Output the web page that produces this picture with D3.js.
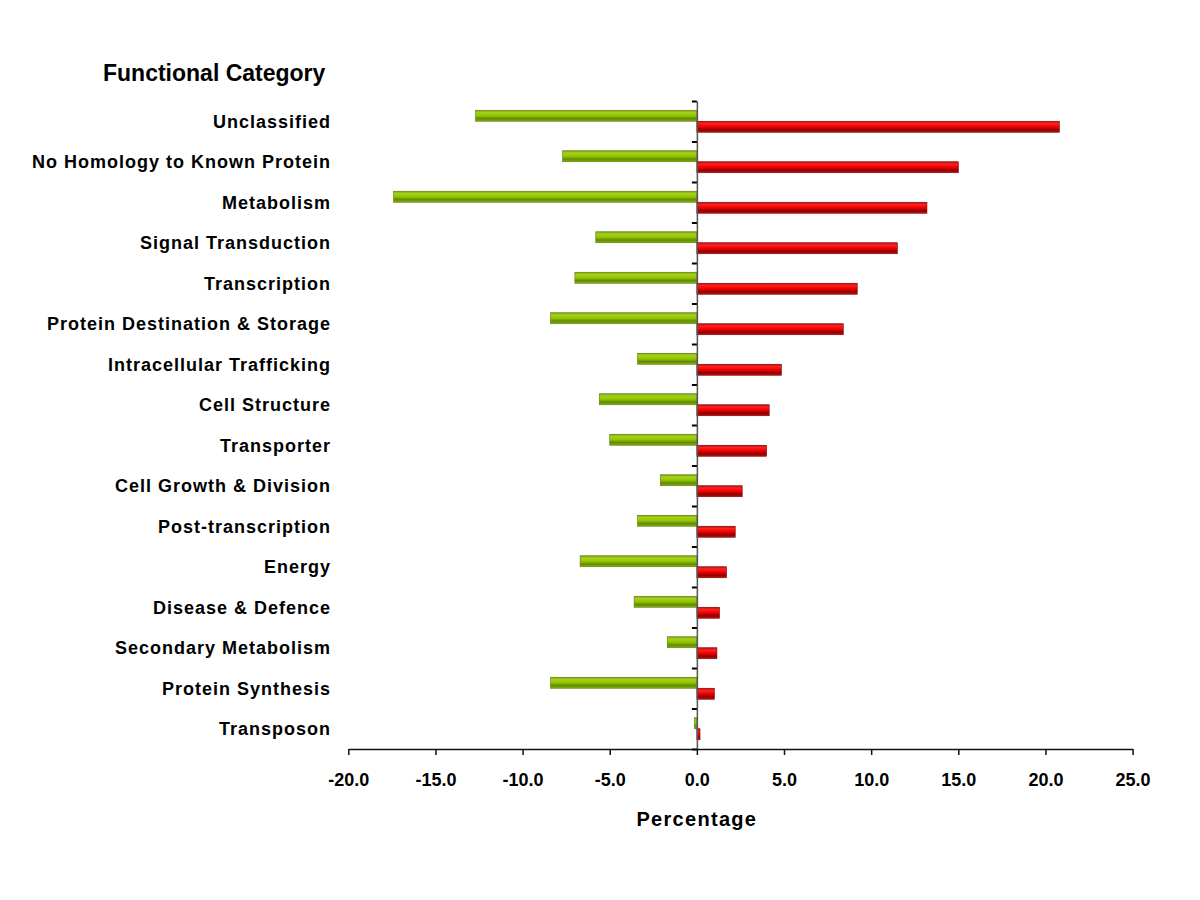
<!DOCTYPE html>
<html>
<head>
<meta charset="utf-8">
<script src="https://cdn.jsdelivr.net/npm/d3@7"></script>
<style>
  body { margin: 0; background: #fff; }
  text { font-family: Arial, "Liberation Sans", sans-serif; font-weight: bold; fill: #000; }
</style>
</head>
<body>
<svg id="chart"></svg>
<script>
/** * * * * DATA * * * */
const categories = [
  "Unclassified",
  "No Homology to Known Protein",
  "Metabolism",
  "Signal Transduction",
  "Transcription",
  "Protein Destination & Storage",
  "Intracellular Trafficking",
  "Cell Structure",
  "Transporter",
  "Cell Growth & Division",
  "Post-transcription",
  "Energy",
  "Disease & Defence",
  "Secondary Metabolism",
  "Protein Synthesis",
  "Transposon"
];
// green (negative) series
const downValues = [-12.7, -7.7, -17.4, -5.8, -7.0, -8.4, -3.4, -5.6, -5.0, -2.1, -3.4, -6.7, -3.6, -1.7, -8.4, -0.15];
// red (positive) series
const upValues = [20.8, 15.0, 13.2, 11.5, 9.2, 8.4, 4.85, 4.15, 4.0, 2.6, 2.2, 1.7, 1.3, 1.15, 1.0, 0.18];
const xTicks = [-20, -15, -10, -5, 0, 5, 10, 15, 20, 25];

/** * * * * CONSTANTS * * * */
const width = 1200;
const height = 900;
const plot = { left: 348.3, right: 1132.6, top: 101, bottom: 749 };
const barH = 11;

const svg = d3.select('#chart')
  .attr('width', width)
  .attr('height', height);

// cylinder-ish gradients like the old excel bars
const defs = svg.append('defs');
function gradient(id, stops) {
  let g = defs.append('linearGradient')
    .attr('id', id)
    .attr('x1', 0).attr('y1', 0).attr('x2', 0).attr('y2', 1);
  stops.forEach(function(s) {
    g.append('stop').attr('offset', s[0]).attr('stop-color', s[1]);
  });
}
gradient('greenGrad', [[0, '#7d9a14'], [0.2, '#a4d21c'], [0.5, '#94c400'], [0.75, '#628c00'], [1, '#86ad10']]);
gradient('redGrad', [[0, '#b01010'], [0.2, '#ff2020'], [0.5, '#f00000'], [0.78, '#8c0000'], [1, '#c41010']]);

// scales
let x = d3.scaleLinear()
  .domain([-20, 25])
  .range([plot.left, plot.right]);

let y = d3.scaleBand()
  .domain(categories)
  .range([plot.top, plot.bottom])
  .padding(0);

let step = y.step();
let series = d3.scaleBand()
  .domain(['down', 'up'])
  .range([step / 2 - barH, step / 2 + barH]);

let rows = categories.map(function(c, i) {
  return { cat: c, down: downValues[i], up: upValues[i] };
});

// green bars
svg.append('g').selectAll('rect')
  .data(rows)
  .enter()
  .append('rect')
  .attr('x', function(d) { return x(d.down); })
  .attr('y', function(d) { return y(d.cat) + series('down'); })
  .attr('width', function(d) { return x(0) - x(d.down); })
  .attr('height', series.bandwidth())
  .attr('fill', 'url(#greenGrad)')
  .attr('stroke', '#5d7a10')
  .attr('stroke-width', 0.6);

// red bars
svg.append('g').selectAll('rect')
  .data(rows)
  .enter()
  .append('rect')
  .attr('x', x(0))
  .attr('y', function(d) { return y(d.cat) + series('up'); })
  .attr('width', function(d) { return x(d.up) - x(0); })
  .attr('height', series.bandwidth())
  .attr('fill', 'url(#redGrad)')
  .attr('stroke', '#7a0000')
  .attr('stroke-width', 0.6);

// y axis at zero, ticks on band boundaries
let yEdges = d3.scaleLinear()
  .domain([0, categories.length])
  .range([plot.top, plot.bottom]);

let yAxis = svg.append('g')
  .attr('transform', `translate(${x(0)},0)`)
  .call(d3.axisLeft(yEdges)
    .tickValues(d3.range(categories.length + 1))
    .tickFormat('')
    .tickSize(5)
    .tickSizeOuter(0));
yAxis.select('.domain').attr('stroke', '#555').attr('stroke-width', 1.5);
yAxis.selectAll('.tick line').attr('stroke', '#000').attr('stroke-width', 2);

// category labels
svg.append('g').selectAll('text')
  .data(categories)
  .enter()
  .append('text')
  .attr('x', 331)
  .attr('y', function(d) { return y(d) + step / 2; })
  .attr('dy', '0.36em')
  .attr('text-anchor', 'end')
  .style('font-size', '18px')
  .style('letter-spacing', '1px')
  .text(function(d) { return d; });

// x axis (plain hyphen for negatives, like the original)
let xAxis = svg.append('g')
  .attr('transform', `translate(0,${plot.bottom})`)
  .call(d3.axisBottom(x)
    .tickValues(xTicks)
    .tickFormat(function(d) { return d.toFixed(1); })
    .tickSize(6)
    .tickSizeOuter(0)
    .tickPadding(18));
xAxis.select('.domain').attr('stroke', '#111').attr('stroke-width', 1.5);
xAxis.selectAll('.tick line').attr('stroke', '#111').attr('stroke-width', 1.5);
xAxis.selectAll('text')
  .style('font-size', '18px')
  .style('font-family', 'Arial, "Liberation Sans", sans-serif')
  .style('font-weight', 'bold')
  .attr('fill', '#000');

// titles
svg.append('text')
  .attr('x', x(0))
  .attr('y', 826)
  .attr('text-anchor', 'middle')
  .style('font-size', '20px')
  .style('letter-spacing', '1.3px')
  .text('Percentage');

svg.append('text')
  .attr('x', 103)
  .attr('y', 81)
  .attr('text-anchor', 'start')
  .style('font-size', '23px')
  .text('Functional Category');
</script>
</body>
</html>
